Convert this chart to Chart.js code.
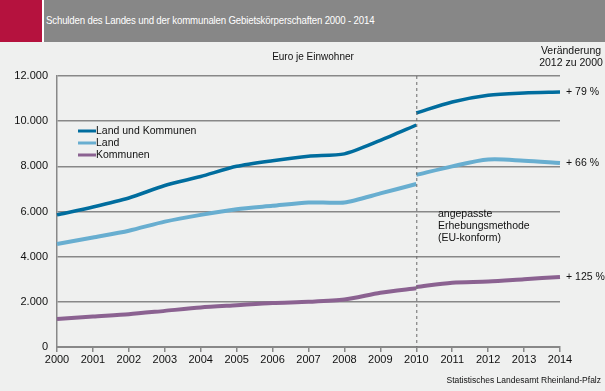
<!DOCTYPE html>
<html>
<head>
<meta charset="utf-8">
<script src="https://cdn.jsdelivr.net/npm/chart.js@4"></script>
<style>
	body { margin: 0; background: #eff0ef; font-family: "Liberation Sans", Arial, sans-serif; }
	#wrap { position: relative; width: 605px; height: 391px; overflow: hidden; }
	#head { position: absolute; left: 0; top: 0; width: 605px; height: 42px; background: #878787; }
	#red { position: absolute; left: 0; top: 0; width: 42px; height: 42px; background: #b5123e; }
	#sep { position: absolute; left: 42px; top: 0; width: 2px; height: 42px; background: #fff; }
	#title { position: absolute; left: 46px; top: 14px; color: #fff; font-size: 11.5px; letter-spacing: -0.2px; white-space: nowrap; transform: scaleX(0.84); transform-origin: left center; }
	#cv { position: absolute; left: 0; top: 42px; width: 605px; height: 349px; }
</style>
</head>
<body>
<div id="wrap">
	<div id="head"><div id="red"></div><div id="sep"></div>
		<div id="title">Schulden des Landes und der kommunalen Gebietskörperschaften 2000 - 2014</div>
	</div>
	<div id="cv"><canvas id="chart" width="605" height="349"></canvas></div>
</div>
<script>
// Jahre
const years = ['2000','2001','2002','2003','2004','2005','2006','2007','2008','2009','2010','2011','2012','2013','2014'];
// alte Methode 2000 - 2010
const landKommunenAlt = [5850, 6200, 6600, 7150, 7550, 8000, 8250, 8450, 8550, 9150, 9830];
const landAlt         = [4560, 4850, 5150, 5550, 5850, 6100, 6250, 6400, 6400, 6800, 7220];
const kommunenAlt     = [1240, 1350, 1450, 1600, 1750, 1850, 1950, 2000, 2100, 2400, 2600];
// angepasste Methode 2010 - 2014
const landKommunenNeu = [10360, 10850, 11150, 11250, 11290];
const landNeu         = [7620, 8000, 8300, 8250, 8150];
const kommunenNeu     = [2660, 2850, 2900, 3000, 3100];
// Veränderung 2012 zu 2000
const aenderung = ['+ 79 %', '+ 66 %', '+ 125 %'];
const yTicks = [0, 2000, 4000, 6000, 8000, 10000, 12000];

const seriesNames = ['Land und Kommunen', 'Land', 'Kommunen'];
const colors = ['#006d9e', '#68aed0', '#8b6291'];
const widths = [3.5, 4, 4];

const pad = (arr, before) => {
	const out = [];
	for (let i = 0; i < before; i++) out.push(null);
	return out.concat(arr).concat(new Array(years.length - before - arr.length).fill(null));
};

const alt = [landKommunenAlt, landAlt, kommunenAlt];
const neu = [landKommunenNeu, landNeu, kommunenNeu];
const datasets = [];
for (let i = 0; i < 3; i++) {
	datasets.push({ label: seriesNames[i], data: pad(alt[i], 0), borderColor: colors[i], backgroundColor: colors[i], borderWidth: widths[i], pointRadius: 0, tension: 0.25, spanGaps: false });
}
for (let i = 0; i < 3; i++) {
	datasets.push({ label: seriesNames[i] + ' neu', data: pad(neu[i], 10), borderColor: colors[i], backgroundColor: colors[i], borderWidth: widths[i], pointRadius: 0, tension: 0.3, spanGaps: false });
}

// Zusatztexte, Legende, Trennlinie 2010
const extras = {
	id: 'extras',
	afterDatasetsDraw(chart) {
		const ctx = chart.ctx;
		const x = chart.scales.x, y = chart.scales.y;
		const ca = chart.chartArea;
		ctx.save();
		// gestrichelte Linie bei 2010
		const x10 = x.getPixelForValue(10);
		ctx.strokeStyle = '#6a6a6a';
		ctx.lineWidth = 1;
		ctx.setLineDash([3, 3]);
		ctx.beginPath();
		ctx.moveTo(x10 + 0.5, ca.top);
		ctx.lineTo(x10 + 0.5, ca.bottom);
		ctx.stroke();
		ctx.setLineDash([]);

		ctx.fillStyle = '#111';
		ctx.font = '10px "Liberation Sans", Arial, sans-serif';
		ctx.textBaseline = 'middle';
		ctx.textAlign = 'center';
		ctx.fillText('Euro je Einwohner', 313, 15);
		ctx.font = '10.5px "Liberation Sans", Arial, sans-serif';
		ctx.fillText('Veränderung', 571, 9);
		ctx.fillText('2012 zu 2000', 571, 21);

		ctx.textAlign = 'left';
		ctx.fillText('angepasste', 438, 172);
		ctx.fillText('Erhebungsmethode', 438, 184);
		ctx.fillText('(EU-konform)', 438, 196);

		// Prozentangaben am Ende der Linien
		for (let i = 0; i < 3; i++) {
			const last = neu[i][neu[i].length - 1];
			ctx.fillText(aenderung[i], 566, y.getPixelForValue(last));
		}

		// Legende
		for (let i = 0; i < 3; i++) {
			const ly = 89 + i * 12;
			ctx.strokeStyle = colors[i];
			ctx.lineWidth = 3;
			ctx.beginPath();
			ctx.moveTo(78, ly);
			ctx.lineTo(96, ly);
			ctx.stroke();
			ctx.fillStyle = '#111';
			ctx.fillText(seriesNames[i], 96, ly);
		}

		// Quelle
		ctx.textAlign = 'right';
		ctx.font = '8.5px "Liberation Sans", Arial, sans-serif';
		ctx.fillText('Statistisches Landesamt Rheinland-Pfalz', 601, 339);
		ctx.restore();
	}
};

new Chart(document.getElementById('chart'), {
	type: 'line',
	data: { labels: years, datasets: datasets },
	plugins: [extras],
	options: {
		responsive: false,
		animation: false,
		layout: { padding: { top: 34, right: 45, left: 0, bottom: 0 } },
		plugins: { legend: { display: false }, tooltip: { enabled: false } },
		scales: {
			x: {
				offset: false,
				afterFit: (s) => { s.height = 44; },
				grid: { display: true, drawOnChartArea: false, drawTicks: true, tickLength: 5, color: '#888', lineWidth: 1.5 },
				border: { display: true, color: '#888', width: 2 },
				ticks: { color: '#111', font: { size: 11, family: '"Liberation Sans", Arial, sans-serif' }, padding: 1, maxRotation: 0, autoSkip: false }
			},
			y: {
				min: 0, max: 12000,
				afterFit: (s) => { s.width = 57; },
				afterBuildTicks: (s) => { s.ticks = yTicks.map(v => ({ value: v })); },
				grid: { color: '#888', lineWidth: 1.5, drawTicks: false },
				border: { display: true, color: '#888', width: 1.5 },
				ticks: {
					color: '#111', padding: 9,
					font: { size: 11, family: '"Liberation Sans", Arial, sans-serif' },
					callback: (v) => v.toLocaleString('de-DE')
				}
			}
		}
	}
});
</script>
</body>
</html>
